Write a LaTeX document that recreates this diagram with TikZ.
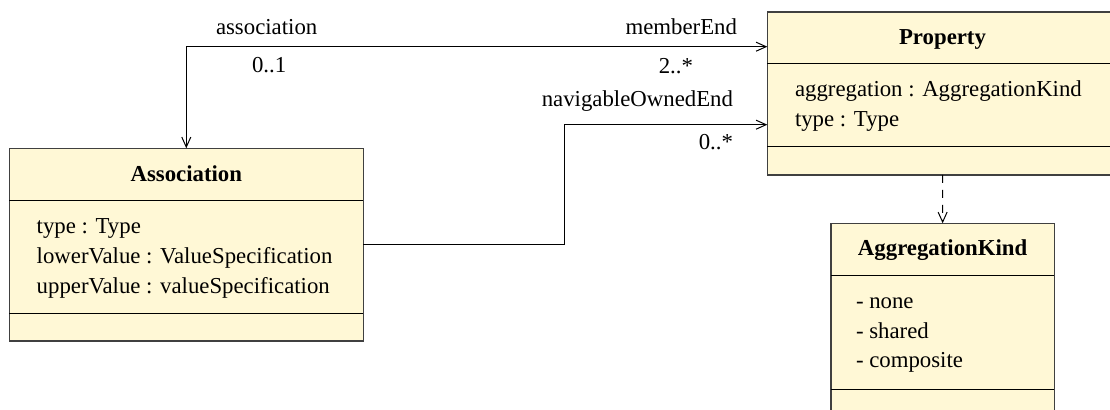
\documentclass[tikz,border=0pt]{standalone}
\usepackage{fontspec}
\setmainfont{Liberation Serif}
\newfontfamily\umlfont{Liberation Serif}
\usetikzlibrary{arrows.meta}
\definecolor{classfill}{HTML}{FFF8D6}

\begin{document}
\begin{tikzpicture}[x=0.5pt, y=-0.5pt,
  every node/.style={inner sep=0pt, outer sep=0pt, font=\umlfont\fontsize{11.4}{15}\selectfont},
  classbox/.style={draw=black!75, line width=0.7pt, fill=classfill, anchor=north west},
  title/.style={anchor=base, font=\umlfont\fontsize{11.4}{15}\selectfont\bfseries},
  attr/.style={anchor=base west},
  sep/.style={line width=0.5pt},
  link/.style={line width=0.5pt, -{Straight Barb[length=5pt, width=4.5pt]}},
  bothlink/.style={line width=0.5pt, {Straight Barb[length=5pt, width=4.5pt]}-{Straight Barb[length=5pt, width=4.5pt]}},
]
  \useasboundingbox (0, 0) rectangle (1110, 410);
  \clip (0, 0) rectangle (1110, 410);

  \node[classbox, minimum width=177pt, minimum height=96.4pt] (assoc) at (9.3, 148.3) {};
  \node[classbox, minimum width=175.2pt, minimum height=81.5pt] (prop) at (767.3, 12) {};
  \node[classbox, minimum width=111.65pt, minimum height=97pt] (aggkind) at (831, 223.3) {};

  \draw[sep] (assoc.west |- 0,200.7) -- (assoc.east |- 0,200.7);
  \draw[sep] (assoc.west |- 0,313.3) -- (assoc.east |- 0,313.3);
  \draw[sep] (prop.west |- 0,64) -- (prop.east |- 0,64);
  \draw[sep] (prop.west |- 0,147) -- (prop.east |- 0,147);
  \draw[sep] (aggkind.west |- 0,276) -- (aggkind.east |- 0,276);
  \draw[sep] (aggkind.west |- 0,389.3) -- (aggkind.east |- 0,389.3);

  \node[title] (assoctitle) at (assoc.north |- 0,181.7) {Association};
  \node[attr] (assoctype) at (36.7, 234) {type : Type};
  \node[attr] (assoclower) at (36.7, 263.3) {lowerValue : ValueSpecification};
  \node[attr] (assocupper) at (36.7, 293.3) {upperValue : valueSpecification};

  \node[title] (proptitle) at (prop.north |- 0,44.3) {Property};
  \node[attr] (propaggr) at (795, 96.7) {aggregation : AggregationKind};
  \node[attr] (proptype) at (795, 126.7) {type : Type};

  \node[title] (aggtitle) at (aggkind.north |- 0,256) {AggregationKind};
  \node[attr] (aggnone) at (856, 308.3) {- none};
  \node[attr] (aggshared) at (856, 338.3) {- shared};
  \node[attr] (aggcomp) at (856, 367.7) {- composite};

  \coordinate (navbend) at (564.3, 124.7);
  \draw[bothlink] (assoc.north) |- (prop.west |- 0,46.7);
  \draw[link] (assoc.east |- 0,245) -| (navbend) -- (prop.west |- navbend);
  \draw[link, dash pattern=on 4pt off 3.5pt] (prop.south) -- (aggkind.north);

  \node[anchor=base west] (assocend) at (216, 35) {association};
  \node[anchor=base west] (assocmult) at (252, 73) {0..1};
  \node[anchor=base east] (memberend) at (737, 35) {memberEnd};
  \node[anchor=base east] (membermult) at (693, 74) {2..*};
  \node[anchor=base east] (navend) at (733, 107) {navigableOwnedEnd};
  \node[anchor=base east] (navmult) at (733, 150) {0..*};
\end{tikzpicture}
\end{document}
